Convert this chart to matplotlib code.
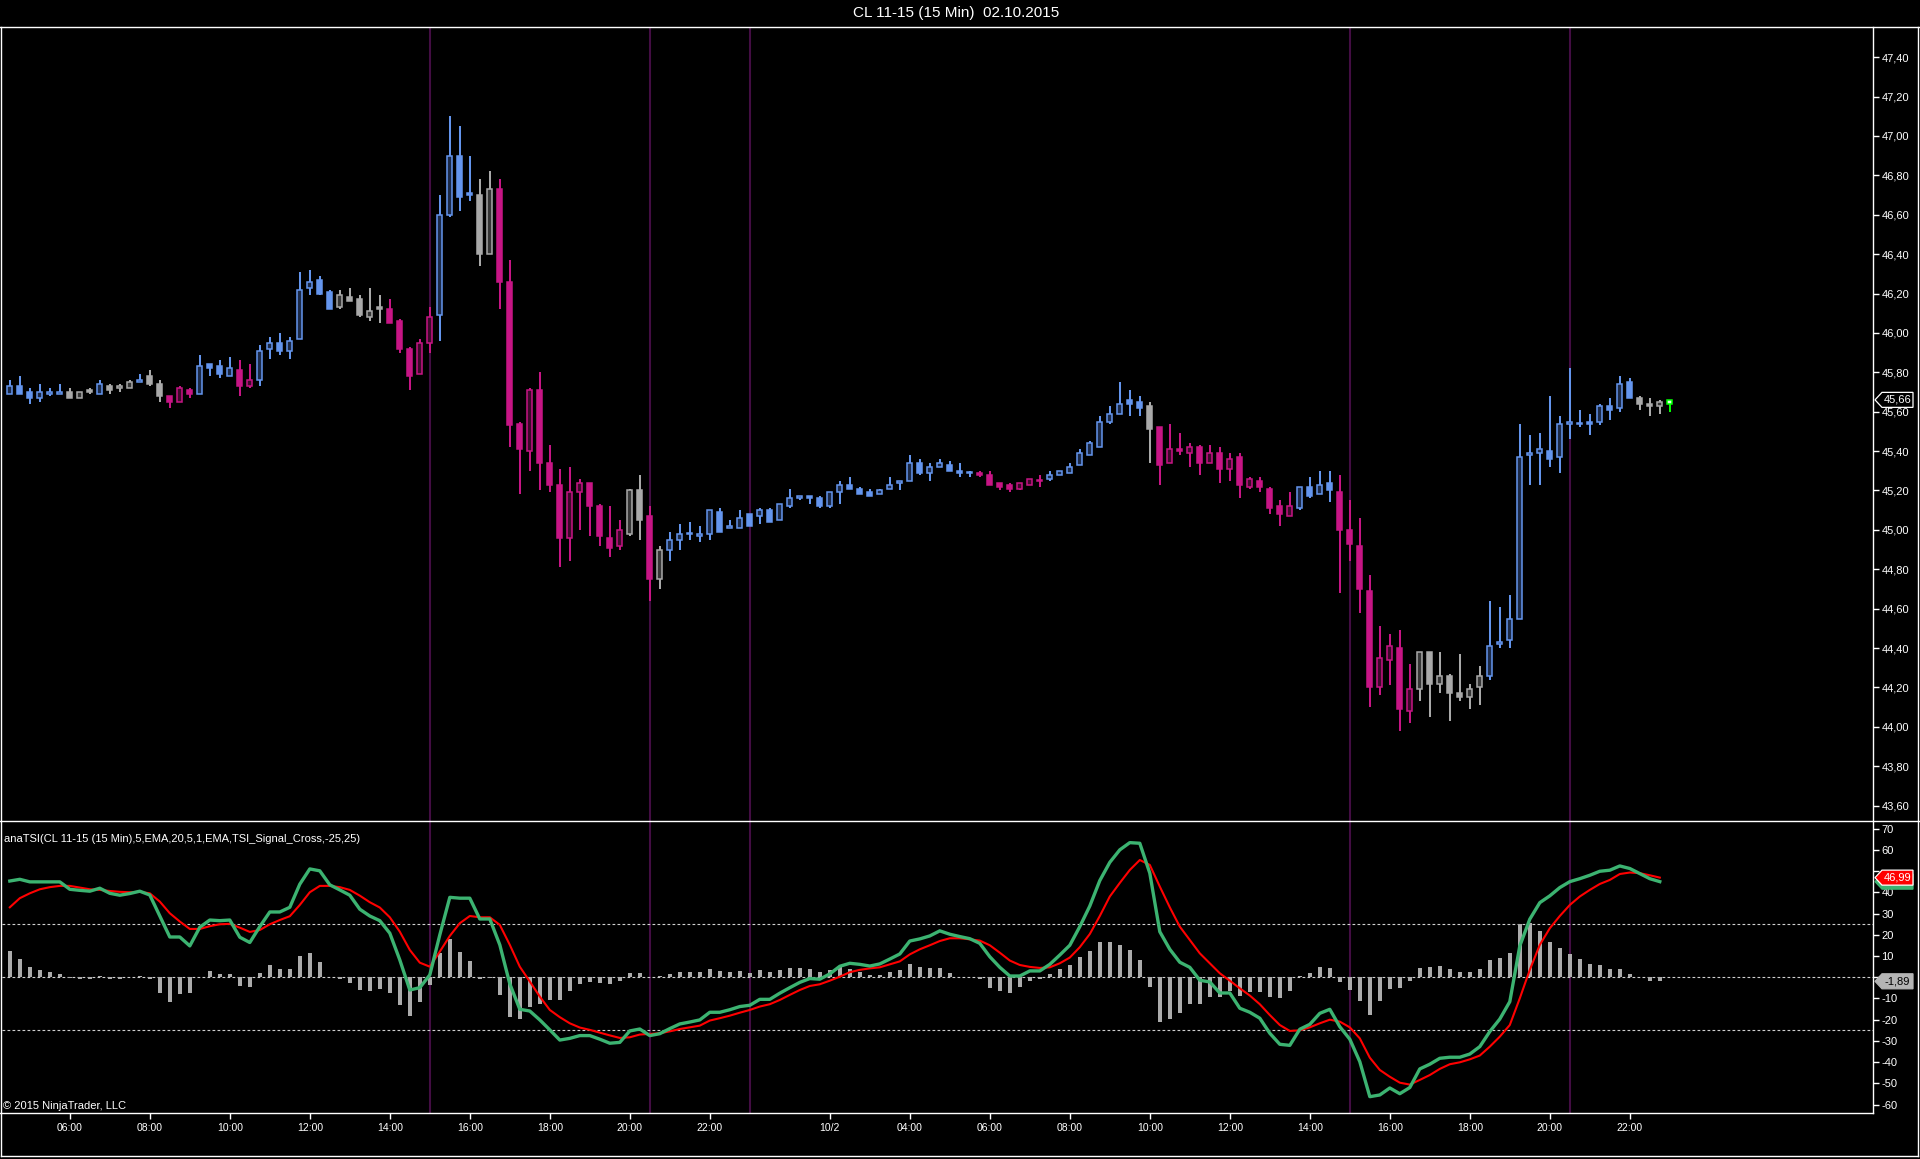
import numpy as np
import matplotlib
matplotlib.use("Agg")
import matplotlib.pyplot as plt
import matplotlib.transforms as mtransforms
from matplotlib.patches import Polygon
from matplotlib.lines import Line2D

plt.rcParams['font.family'] = ['Liberation Sans', 'DejaVu Sans']

# ---------------- data ----------------
FIRST_BAR = -6   # bar index of first candle (04:30 on 10/1); index 0 = 06:00

OPEN = [45.69, 45.73, 45.70, 45.67, 45.69, 45.69, 45.70, 45.67, 45.71, 45.69,
        45.73, 45.72, 45.72, 45.75, 45.78, 45.74, 45.68, 45.65, 45.71, 45.69,
        45.84, 45.83, 45.78, 45.81, 45.73, 45.76, 45.92, 45.95, 45.91, 45.97,
        46.23, 46.27, 46.21, 46.13, 46.18, 46.17, 46.08, 46.13, 46.12, 46.06,
        45.92, 45.79, 45.95, 46.09, 46.60, 46.90, 46.71, 46.70, 46.40, 46.73,
        46.26, 45.54, 45.40, 45.71, 45.34, 45.23, 44.96, 45.19, 45.24, 45.12,
        44.96, 44.92, 44.98, 45.20, 45.07, 44.75, 44.90, 44.95, 44.98, 44.97,
        44.98, 45.09, 45.01, 45.01, 45.08, 45.07, 45.10, 45.05, 45.12, 45.16,
        45.17, 45.16, 45.12, 45.19, 45.23, 45.21, 45.19, 45.18, 45.21, 45.24,
        45.25, 45.34, 45.29, 45.32, 45.33, 45.30, 45.29, 45.29, 45.28, 45.24,
        45.23, 45.21, 45.23, 45.25, 45.26, 45.28, 45.29, 45.33, 45.38, 45.42,
        45.55, 45.59, 45.66, 45.65, 45.63, 45.52, 45.34, 45.41, 45.39, 45.42,
        45.34, 45.39, 45.31, 45.37, 45.22, 45.25, 45.21, 45.12, 45.07, 45.11,
        45.22, 45.18, 45.24, 45.19, 45.00, 44.92, 44.69, 44.20, 44.34, 44.40,
        44.08, 44.19, 44.38, 44.22, 44.26, 44.17, 44.15, 44.20, 44.26, 44.42,
        44.44, 44.55, 45.38, 45.39, 45.40, 45.37, 45.54, 45.54, 45.55, 45.55,
        45.63, 45.62, 45.75, 45.67, 45.64, 45.63, 45.64]

HIGH = [45.76, 45.78, 45.72, 45.74, 45.72, 45.74, 45.72, 45.70, 45.72, 45.76,
        45.74, 45.74, 45.76, 45.79, 45.81, 45.76, 45.68, 45.73, 45.72, 45.89,
        45.84, 45.86, 45.88, 45.86, 45.84, 45.94, 45.98, 46.00, 45.98, 46.31,
        46.32, 46.29, 46.22, 46.22, 46.23, 46.19, 46.23, 46.19, 46.17, 46.07,
        45.93, 45.97, 46.13, 46.70, 47.10, 47.05, 46.90, 46.78, 46.82, 46.78,
        46.37, 45.55, 45.72, 45.80, 45.43, 45.31, 45.32, 45.26, 45.24, 45.13,
        45.12, 45.05, 45.21, 45.28, 45.12, 44.92, 44.99, 45.03, 45.04, 45.02,
        45.10, 45.11, 45.05, 45.10, 45.08, 45.11, 45.11, 45.13, 45.21, 45.17,
        45.17, 45.17, 45.19, 45.25, 45.27, 45.22, 45.21, 45.21, 45.27, 45.25,
        45.38, 45.36, 45.34, 45.36, 45.35, 45.34, 45.30, 45.30, 45.30, 45.24,
        45.24, 45.24, 45.26, 45.28, 45.30, 45.30, 45.34, 45.41, 45.45, 45.58,
        45.63, 45.75, 45.71, 45.68, 45.65, 45.52, 45.54, 45.49, 45.44, 45.43,
        45.43, 45.42, 45.39, 45.39, 45.27, 45.27, 45.22, 45.15, 45.19, 45.22,
        45.27, 45.30, 45.30, 45.28, 45.15, 45.06, 44.77, 44.51, 44.47, 44.49,
        44.32, 44.38, 44.38, 44.38, 44.27, 44.37, 44.22, 44.31, 44.64, 44.61,
        44.67, 45.54, 45.48, 45.49, 45.68, 45.58, 45.82, 45.61, 45.59, 45.64,
        45.67, 45.78, 45.77, 45.68, 45.67, 45.66, 45.66]

LOW = [45.69, 45.69, 45.64, 45.65, 45.68, 45.69, 45.67, 45.67, 45.69, 45.69,
       45.69, 45.70, 45.72, 45.75, 45.73, 45.65, 45.62, 45.65, 45.67, 45.69,
       45.78, 45.77, 45.78, 45.68, 45.72, 45.73, 45.87, 45.89, 45.87, 45.97,
       46.19, 46.19, 46.12, 46.12, 46.16, 46.08, 46.06, 46.05, 46.05, 45.90,
       45.71, 45.79, 45.90, 45.96, 46.59, 46.62, 46.67, 46.34, 46.40, 46.12,
       45.42, 45.18, 45.30, 45.20, 45.19, 44.81, 44.84, 45.00, 44.97, 44.92,
       44.86, 44.90, 44.97, 44.95, 44.64, 44.70, 44.84, 44.90, 44.95, 44.94,
       44.95, 44.99, 45.01, 45.01, 45.02, 45.03, 45.04, 45.05, 45.11, 45.15,
       45.13, 45.11, 45.11, 45.13, 45.21, 45.18, 45.17, 45.18, 45.21, 45.20,
       45.25, 45.28, 45.25, 45.32, 45.30, 45.27, 45.27, 45.27, 45.23, 45.20,
       45.19, 45.20, 45.23, 45.22, 45.25, 45.28, 45.29, 45.33, 45.38, 45.42,
       45.54, 45.59, 45.58, 45.58, 45.34, 45.23, 45.34, 45.38, 45.32, 45.28,
       45.34, 45.24, 45.25, 45.16, 45.21, 45.19, 45.08, 45.02, 45.07, 45.10,
       45.16, 45.18, 45.14, 44.68, 44.84, 44.58, 44.10, 44.16, 44.21, 43.98,
       44.02, 44.13, 44.05, 44.17, 44.03, 44.13, 44.09, 44.11, 44.24, 44.40,
       44.40, 44.55, 45.23, 45.23, 45.32, 45.29, 45.46, 45.52, 45.48, 45.53,
       45.56, 45.60, 45.67, 45.61, 45.58, 45.59, 45.60]

CLOSE = [45.73, 45.69, 45.67, 45.70, 45.70, 45.70, 45.67, 45.70, 45.70, 45.74,
         45.71, 45.73, 45.75, 45.76, 45.74, 45.68, 45.65, 45.72, 45.69, 45.83,
         45.82, 45.79, 45.82, 45.73, 45.76, 45.91, 45.95, 45.91, 45.96, 46.22,
         46.26, 46.20, 46.12, 46.19, 46.16, 46.09, 46.11, 46.12, 46.05, 45.92,
         45.78, 45.95, 46.08, 46.60, 46.90, 46.69, 46.70, 46.40, 46.73, 46.26,
         45.53, 45.41, 45.71, 45.34, 45.23, 44.96, 45.19, 45.24, 45.12, 44.97,
         44.91, 45.00, 45.20, 45.05, 44.75, 44.90, 44.95, 44.98, 44.98, 44.98,
         45.10, 44.99, 45.02, 45.06, 45.02, 45.10, 45.04, 45.13, 45.16, 45.17,
         45.16, 45.12, 45.19, 45.23, 45.21, 45.18, 45.17, 45.20, 45.23, 45.25,
         45.34, 45.29, 45.32, 45.34, 45.30, 45.29, 45.29, 45.28, 45.23, 45.22,
         45.21, 45.24, 45.26, 45.25, 45.28, 45.30, 45.32, 45.39, 45.44, 45.55,
         45.59, 45.64, 45.64, 45.62, 45.51, 45.33, 45.41, 45.40, 45.42, 45.34,
         45.39, 45.31, 45.36, 45.23, 45.26, 45.22, 45.11, 45.08, 45.12, 45.22,
         45.17, 45.23, 45.20, 45.00, 44.93, 44.70, 44.20, 44.35, 44.41, 44.09,
         44.19, 44.38, 44.22, 44.26, 44.17, 44.15, 44.19, 44.26, 44.41, 44.43,
         44.55, 45.37, 45.39, 45.41, 45.36, 45.54, 45.55, 45.54, 45.54, 45.63,
         45.61, 45.74, 45.67, 45.64, 45.63, 45.65, 45.66]

# paint-bar colour per candle: b = blue (up trend), m = magenta (down), g = gray (neutral), G = current bar
BAR_COLOR = list("bbbbbbgggb" "gggbggmmmb" "bbbmmbbbbb" "bbbgggggmm"
                 "mmmbbbbggm" "mmmmmmmmmm" "mmggmgbbbb" "bbbbbbbbbb"
                 "bbbbbbbbbb" "bbbbbbbmmm" "mmmmbbbbbb" "bbbbgmmmmm"
                 "mmmmmmmmmb" "bbbmmmmmmm" "mggggggg" "bb" "bbbbbbbbbb"
                 "bbbgggG")

TSI = [45.4, 46.2, 45.0, 45.0, 45.0, 45.0, 41.5, 41.0, 40.6, 42.0,
       39.6, 38.7, 39.5, 40.6, 38.8, 28.9, 19.0, 19.0, 14.8, 23.6,
       27.0, 26.7, 27.0, 18.9, 16.4, 23.9, 30.8, 30.8, 33.0, 43.9,
       51.1, 50.2, 43.6, 41.2, 38.7, 32.1, 28.9, 26.7, 20.8, 8.2,
       -6.0, -4.9, 1.1, 20.0, 37.7, 37.3, 37.3, 27.5, 27.5, 15.3,
       -3.1, -15.1, -15.9, -20.1, -24.8, -29.6, -28.8, -27.5, -27.5, -29.2,
       -31.1, -30.7, -25.3, -24.4, -27.5, -26.6, -24.2, -22.0, -21.1, -20.1,
       -16.5, -16.5, -15.3, -13.8, -13.2, -10.4, -10.4, -7.5, -4.9, -2.4,
       -0.6, -0.9, 1.6, 5.2, 6.6, 6.1, 5.3, 6.3, 8.6, 11.0,
       17.1, 18.1, 19.5, 21.9, 20.3, 19.2, 18.2, 16.0, 9.7, 4.7,
       0.6, 0.6, 3.0, 3.0, 6.1, 10.5, 15.1, 23.9, 33.6, 45.6,
       54.2, 60.1, 63.5, 63.2, 49.1, 21.5, 13.2, 7.1, 4.7, -1.4,
       -2.2, -7.4, -7.4, -14.6, -16.5, -19.3, -26.4, -31.6, -32.1, -24.5,
       -22.2, -17.0, -15.1, -23.3, -29.2, -39.8, -56.3, -55.5, -52.2, -54.9,
       -52.0, -43.2, -41.0, -38.2, -37.7, -37.7, -36.2, -32.7, -25.6, -19.7,
       -11.5, 14.8, 27.4, 35.2, 38.4, 42.3, 45.1, 46.5, 48.1, 50.0,
       50.5, 52.5, 51.3, 48.9, 46.5, 45.1]

SIGNAL = [33.0, 37.3, 39.6, 41.5, 42.5, 43.1, 43.1, 42.3, 41.5, 41.2,
          40.7, 40.3, 40.1, 40.3, 39.6, 35.7, 30.2, 26.3, 22.8, 22.8,
          24.1, 25.0, 25.2, 23.4, 21.4, 22.3, 25.0, 27.0, 28.8, 34.1,
          40.1, 43.1, 43.1, 42.5, 41.2, 38.5, 35.4, 32.9, 28.3, 21.5,
          12.9, 6.9, 5.0, 12.1, 19.5, 25.5, 28.9, 28.3, 28.3, 24.7,
          15.3, 5.0, -2.0, -9.1, -15.4, -18.8, -21.7, -23.7, -24.8, -26.1,
          -27.4, -28.6, -28.3, -27.0, -26.7, -26.4, -25.5, -24.4, -23.6, -22.8,
          -20.4, -19.3, -18.1, -16.7, -15.4, -13.8, -12.7, -10.7, -8.3, -6.0,
          -4.1, -3.3, -1.6, 0.3, 2.4, 3.5, 4.2, 4.7, 6.1, 7.5,
          10.8, 13.2, 15.1, 17.1, 18.4, 18.4, 17.9, 17.3, 15.1, 11.6,
          7.9, 5.8, 4.9, 4.4, 4.7, 6.6, 9.3, 14.2, 20.4, 28.9,
          38.1, 44.5, 50.6, 55.3, 53.0, 42.8, 33.0, 23.9, 17.6, 11.3,
          6.6, 1.9, -1.6, -5.2, -8.6, -12.7, -17.8, -22.5, -25.3, -25.0,
          -23.6, -21.7, -20.0, -20.9, -23.6, -28.8, -37.9, -43.7, -46.9, -49.7,
          -50.6, -48.4, -46.1, -43.2, -41.0, -40.1, -38.7, -36.9, -32.7, -28.0,
          -22.5, -9.9, 3.5, 15.3, 23.1, 28.9, 34.1, 38.1, 41.2, 44.0,
          45.9, 48.7, 49.4, 49.1, 48.1, 47.0]

HIST = [12.4, 8.6, 5.0, 3.5, 2.5, 1.6, -0.5, -0.8, -0.9, 0.6,
        -0.9, -0.9, 0.0, 0.6, -0.9, -7.2, -11.5, -7.7, -7.2, 0.0,
        3.0, 1.6, 1.6, -3.9, -4.4, 2.0, 5.8, 4.1, 4.1, 10.2,
        11.5, 7.2, 0.0, -0.9, -2.5, -6.0, -6.3, -5.5, -7.2, -12.9,
        -18.1, -11.6, -3.6, 11.3, 18.1, 11.9, 7.7, -0.9, -0.5, -8.2,
        -18.6, -19.5, -13.8, -12.4, -10.5, -10.5, -6.4, -3.1, -2.2, -2.7,
        -3.1, -1.7, 2.0, 2.0, 0.0, 0.6, 1.6, 2.5, 2.5, 2.5,
        3.9, 3.0, 2.5, 3.0, 2.0, 3.5, 2.5, 3.5, 4.4, 4.4,
        3.9, 2.5, 3.5, 4.9, 3.9, 2.5, 1.1, 1.1, 2.5, 3.5,
        6.3, 4.9, 4.4, 4.4, 2.0, 0.0, 0.0, -0.9, -4.9, -6.3,
        -7.2, -4.4, -1.6, -0.6, 1.6, 3.9, 5.8, 9.6, 12.4, 16.7,
        16.7, 15.3, 12.9, 8.2, -4.4, -20.9, -19.5, -16.7, -12.4, -12.4,
        -9.1, -9.1, -6.3, -8.6, -6.8, -6.8, -9.1, -9.6, -6.3, 0.6,
        2.0, 4.9, 4.4, -2.0, -5.8, -11.0, -17.6, -11.0, -5.3, -4.9,
        -1.6, 4.4, 4.9, 5.3, 3.9, 2.5, 2.5, 3.9, 8.2, 9.1,
        11.5, 25.0, 25.5, 21.9, 16.7, 13.8, 11.0, 8.6, 6.3, 5.8,
        3.9, 3.9, 1.6, 0.0, -1.6, -1.9]

TICK_IDX = [0, 8, 16, 24, 32, 40, 48, 56, 64, 76, 84, 92, 100, 108, 116, 124, 132, 140, 148, 156]
TICK_LBL = ['06:00', '08:00', '10:00', '12:00', '14:00', '16:00', '18:00', '20:00', '22:00',
            '10/2', '04:00', '06:00', '08:00', '10:00', '12:00', '14:00', '16:00', '18:00',
            '20:00', '22:00']
SESSION_IDX = [36, 58, 68, 128, 150]

PRICE_TICKS = [43.6, 43.8, 44.0, 44.2, 44.4, 44.6, 44.8, 45.0, 45.2, 45.4, 45.6, 45.8,
               46.0, 46.2, 46.4, 46.6, 46.8, 47.0, 47.2, 47.4]
TSI_TICKS = [70, 60, 50, 40, 30, 20, 10, 0, -10, -20, -30, -40, -50, -60]
TSI_HIDDEN = [50, 0]   # labels covered by value tags in the reference

LAST_PRICE = 45.66
LAST_SIGNAL = 46.99
LAST_TSI = 45.10
LAST_HIST = -1.89

TITLE = 'CL 11-15 (15 Min)  02.10.2015'
IND_LABEL = 'anaTSI(CL 11-15 (15 Min),5,EMA,20,5,1,EMA,TSI_Signal_Cross,-25,25)'

# ---------------- styling ----------------
W, H = 1920, 1159
COL = {'b': '#6495ED', 'm': '#C71585', 'g': '#A9A9A9', 'G': '#00FF00'}
HOLLOW = {'b': '#1c2a47', 'm': '#3d0a2b', 'g': '#363636', 'G': '#e8ffe8'}

fig = plt.figure(figsize=(W / 100, H / 100), dpi=100, facecolor='black')


def fx(px):
    return px / W


def fy(py):
    return 1 - py / H


ax1 = fig.add_axes([fx(2), fy(821), fx(1873) - fx(2), fy(27) - fy(821)], facecolor='black')
ax2 = fig.add_axes([fx(2), fy(1113), fx(1873) - fx(2), fy(821) - fy(1113)], facecolor='black')

for ax in (ax1, ax2):
    for s in ax.spines.values():
        s.set_visible(False)
    ax.set_xlim(-6.78, 180.32)
    for xi in SESSION_IDX:
        ax.axvline(xi, color='#430d43', lw=1.5, zorder=1)

# ---------------- candles ----------------
n = len(OPEN)
idx = np.arange(FIRST_BAR, FIRST_BAR + n)
O = np.array(OPEN); Hh = np.array(HIGH); L = np.array(LOW); C = np.array(CLOSE)
for k in range(n):
    c = BAR_COLOR[k]
    col = COL[c]
    ax1.vlines(idx[k], L[k], Hh[k], color=col, lw=1.45, zorder=3)
    up = C[k] >= O[k]
    face = HOLLOW[c] if up else col
    lo = min(O[k], C[k])
    ht = max(abs(C[k] - O[k]), 0.003)
    ax1.bar(idx[k], ht, bottom=lo, width=0.5, facecolor=face, edgecolor=col,
            linewidth=1.1, zorder=4)

ax1.set_ylim(43.522, 47.553)
ax1.yaxis.tick_right()
ax1.set_yticks(PRICE_TICKS)
ax1.set_yticklabels([f'{v:.2f}'.replace('.', ',') for v in PRICE_TICKS])
ax1.tick_params(axis='y', colors='white', labelcolor='white', direction='out',
                length=4, width=1, pad=2, labelsize=8)
ax1.set_xticks([])

# ---------------- indicator ----------------
m = len(TSI)
iidx = np.arange(FIRST_BAR, FIRST_BAR + m)
ax2.set_ylim(-64.0, 73.7)
for lvl in (25, 0, -25):
    ax2.axhline(lvl, color='#cfcfcf', lw=0.8, linestyle=(0, (2.5, 2)), zorder=2)
ax2.bar(iidx, HIST, width=0.36, color='#ababab', zorder=3)
ax2.plot(iidx, SIGNAL, color='#ff0000', lw=1.5, zorder=4)
ax2.plot(iidx, TSI, color='#3cb371', lw=2.4, zorder=5, solid_joinstyle='round')

ax2.yaxis.tick_right()
ax2.set_yticks(TSI_TICKS)
ax2.set_yticklabels(['' if v in TSI_HIDDEN else str(v) for v in TSI_TICKS])
ax2.tick_params(axis='y', colors='white', labelcolor='white', direction='out',
                length=4, width=1, pad=2, labelsize=8)
ax2.set_xticks(TICK_IDX)
ax2.set_xticklabels(TICK_LBL)
ax2.tick_params(axis='x', colors='white', labelcolor='white', direction='out',
                length=4, width=1, pad=3, labelsize=7.5)


# ---------------- value tags ----------------
def tag(ax, y, txt, face, edge, tc, px_per_unit, z=10):
    trans = mtransforms.blended_transform_factory(ax.transAxes, ax.transData)
    w = 1871.0
    tip, bl, br = 1 + 2 / w, 1 + 9 / w, 1 + 40 / w
    hh = 7.5 / px_per_unit
    poly = Polygon([[tip, y], [bl, y + hh], [br, y + hh], [br, y - hh], [bl, y - hh]],
                   closed=True, transform=trans, facecolor=face, edgecolor=edge,
                   lw=0.9, clip_on=False, zorder=z)
    ax.add_patch(poly)
    if txt:
        ax.text(1 + 24.5 / w, y, txt, transform=trans, ha='center', va='center',
                color=tc, fontsize=8, zorder=z + 1, clip_on=False)


fmt = lambda v: f'{v:.2f}'.replace('.', ',')
tag(ax1, LAST_PRICE, fmt(LAST_PRICE), 'black', 'white', 'white', 197.0)
tag(ax2, LAST_TSI, None, '#3cb371', '#3cb371', 'white', 2.12, z=9)   # hidden under the signal tag
tag(ax2, LAST_SIGNAL, fmt(LAST_SIGNAL), '#ff0000', 'white', 'white', 2.12, z=12)
tag(ax2, LAST_HIST, fmt(LAST_HIST), '#b4b4b4', '#b4b4b4', 'black', 2.12, z=12)

# ---------------- frame & text ----------------
def fline(x0, y0, x1, y1):
    fig.add_artist(Line2D([fx(x0), fx(x1)], [fy(y0), fy(y1)], transform=fig.transFigure,
                          color='white', lw=1.0))


fline(0, 27, 1919, 27)
fline(0, 821, 1919, 821)
fline(0, 1113, 1873, 1113)
fline(1873, 27, 1873, 1113)
fline(1, 27, 1, 1156)
fline(1, 1156, 1918, 1156)
fline(1918, 27, 1918, 1156)

fig.text(fx(956), fy(13), TITLE, ha='center', va='center', color='white', fontsize=11)
fig.text(fx(4), fy(839), IND_LABEL, ha='left', va='center', color='white', fontsize=8)
fig.text(fx(3), fy(1106), '\u00a9 2015 NinjaTrader, LLC', ha='left', va='center',
         color='white', fontsize=8)

fig.savefig('out.png', dpi=100, facecolor='black')
